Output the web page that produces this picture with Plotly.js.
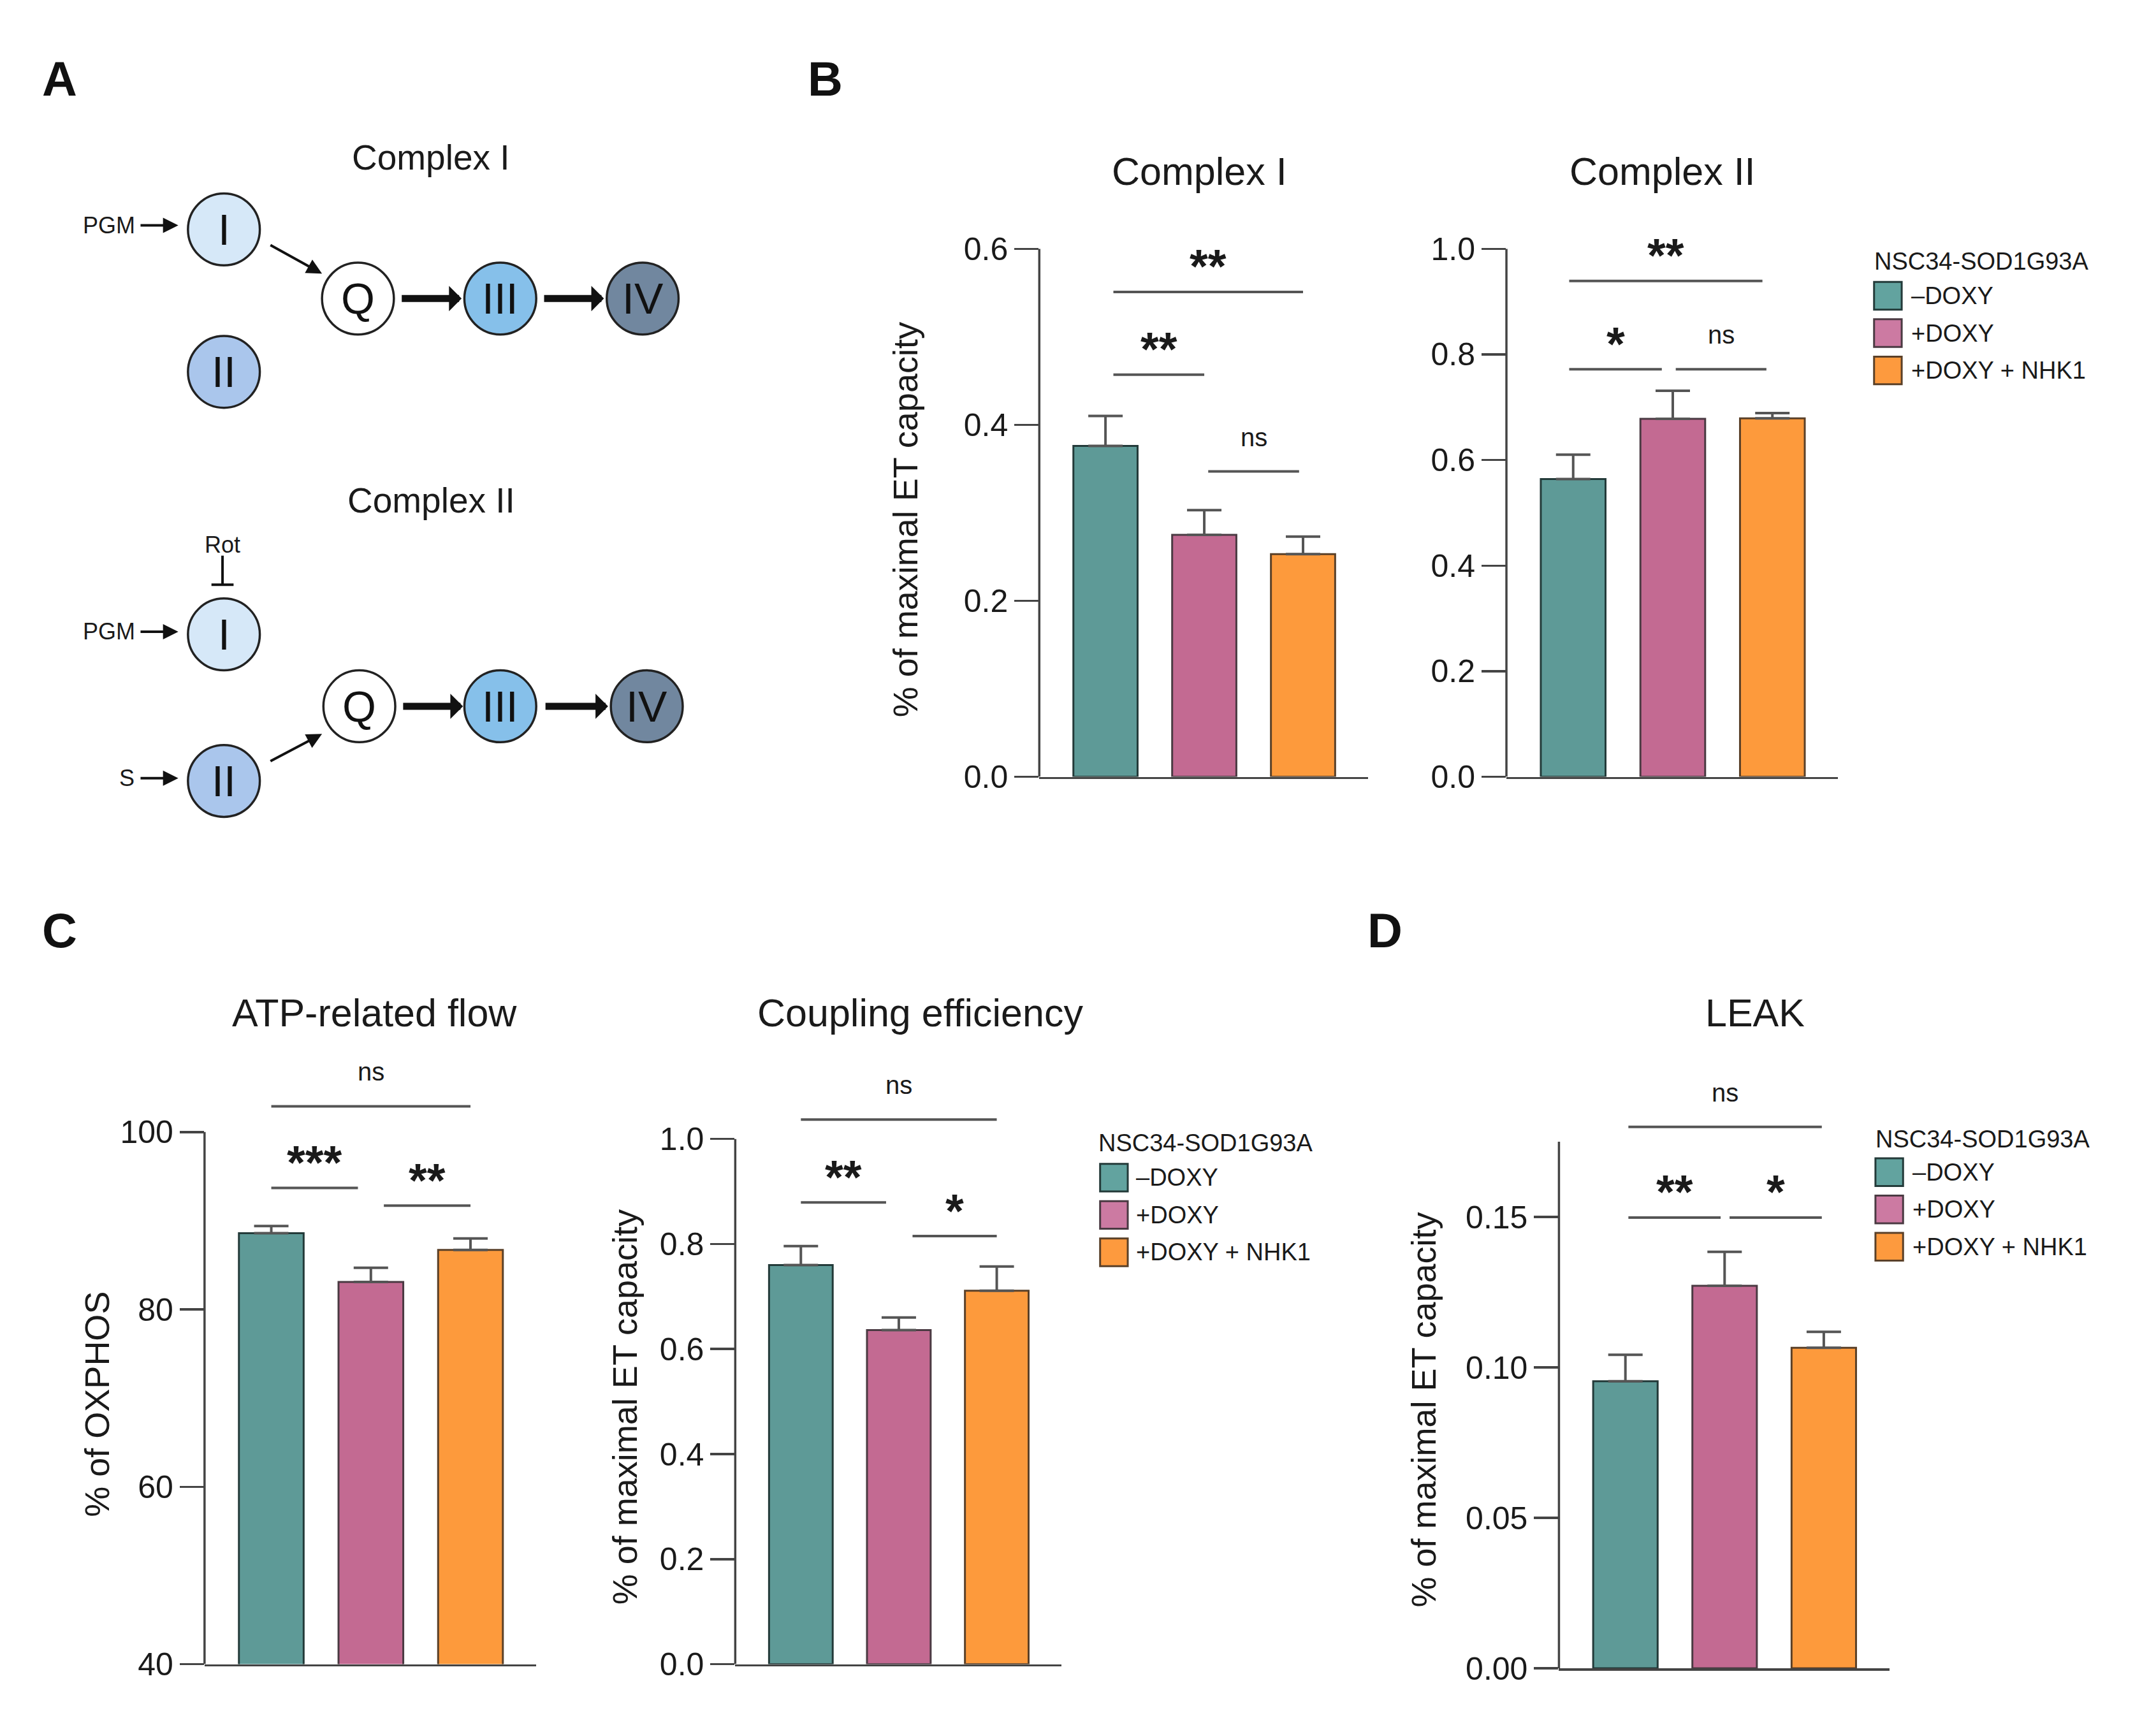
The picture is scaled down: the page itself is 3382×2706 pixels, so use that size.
<!DOCTYPE html>
<html><head><meta charset="utf-8">
<script src="https://cdn.plot.ly/plotly-3.0.1.min.js"></script>
<style>html,body{margin:0;padding:0;background:#fff}</style>
</head><body><div id="chart" style="width:3382px;height:2706px"></div>
<script>
// ---------------- data ----------------
const groups = ['–DOXY', '+DOXY', '+DOXY + NHK1'];
const legendTitle = 'NSC34-SOD1G93A';

const complexIMean = [0.376, 0.275, 0.253];
const complexISem  = [0.034, 0.028, 0.020];
const complexIIMean = [0.564, 0.678, 0.679];
const complexIISem  = [0.046, 0.053, 0.010];
const atpMean = [88.6, 83.1, 86.7];
const atpSem  = [0.8, 1.6, 1.3];
const couplingMean = [0.760, 0.636, 0.711];
const couplingSem  = [0.036, 0.024, 0.046];
const leakMean = [0.0954, 0.1271, 0.1065];
const leakSem  = [0.0088, 0.0113, 0.0053];

const complexITicks = [0, 0.2, 0.4, 0.6];
const complexIITicks = [0, 0.2, 0.4, 0.6, 0.8, 1.0];
const atpTicks = [40, 60, 80, 100];
const couplingTicks = [0, 0.2, 0.4, 0.6, 0.8, 1.0];
const leakTicks = [0, 0.05, 0.10, 0.15];

// significance brackets: [from category, to category, level, label]
const complexISig = [[0.08, 2.0, 0.551, '**'], [0.08, 1.0, 0.457, '**'], [1.04, 1.96, 0.347, 'ns']];
const complexIISig = [[-0.04, 1.9, 0.939, '**'], [-0.04, 0.89, 0.772, '*'], [1.03, 1.94, 0.772, 'ns']];
const atpSig = [[0, 2, 102.9, 'ns'], [0, 0.87, 93.7, '***'], [1.13, 2, 91.7, '**']];
const couplingSig = [[0, 2, 1.037, 'ns'], [0, 0.87, 0.879, '**'], [1.14, 2, 0.815, '*']];
const leakSig = [[0.03, 1.98, 0.1799, 'ns'], [0.03, 0.96, 0.1498, '**'], [1.05, 1.98, 0.1498, '*']];

// ---------------- styles / layout geometry ----------------
const FONT = 'Liberation Sans, Arial, Helvetica, sans-serif';
const TXT = '#1a1a1a';
const barColors = ['#5e9a97', '#c36a92', '#fd9a3c'];
const legendColors = ['#62a39f', '#cc7aa2', '#fd9a3e'];
const barLines = ['#233a39', '#4a3a42', '#5a4028'];
const AX = '#444';
const DW = 1560, DH = 1248, K = 3382 / 1560;
const px = x => x / DW;
const py = y => 1 - y / DH;

const panels = [
  {mean: complexIMean, sem: complexISem, ticks: complexITicks, fmt: '.1f', sig: complexISig,
   axisTop: 0.6, rangeTop: 0.6, x0: 752, x1: 990, yb: 562, ya: 180,
   title: 'Complex I', tx: 868, ty: 124, ytitle: '% of maximal ET capacity', ytx: 655, yty: 376},
  {mean: complexIIMean, sem: complexIISem, ticks: complexIITicks, fmt: '.1f', sig: complexIISig,
   axisTop: 1.0, rangeTop: 1.0, x0: 1090, x1: 1330, yb: 562, ya: 180,
   title: 'Complex II', tx: 1203, ty: 124, ytitle: null},
  {mean: atpMean, sem: atpSem, ticks: atpTicks, fmt: '.0f', sig: atpSig,
   axisTop: 100, rangeTop: 104, x0: 148, x1: 388, yb: 1204, ya: 819,
   title: 'ATP-related flow', tx: 271, ty: 733, ytitle: '% of OXPHOS', ytx: 70, yty: 1016},
  {mean: couplingMean, sem: couplingSem, ticks: couplingTicks, fmt: '.1f', sig: couplingSig,
   axisTop: 1.0, rangeTop: 1.06, x0: 532, x1: 768, yb: 1204, ya: 824,
   title: 'Coupling efficiency', tx: 666, ty: 733, ytitle: '% of maximal ET capacity', ytx: 452, yty: 1018},
  {mean: leakMean, sem: leakSem, ticks: leakTicks, fmt: '.2f', sig: leakSig,
   axisTop: 0.175, rangeTop: 0.185, x0: 1128, x1: 1367, yb: 1207, ya: 826,
   title: 'LEAK', tx: 1270, ty: 733, ytitle: '% of maximal ET capacity', ytx: 1030, yty: 1020}
];

const legends = [
  {tx: 1355, ty: 189, bx: 1356, cys: [214, 241, 268], textX: 1382},
  {tx: 794, ty: 827, bx: 796, cys: [852, 879, 906], textX: 821},
  {tx: 1356, ty: 824, bx: 1357, cys: [848, 875, 902], textX: 1383}
];

const traces = [];
const shapes = [];
const annotations = [];
const layout = {
  width: 3382, height: 2706,
  margin: {l: 0, r: 0, t: 0, b: 0},
  paper_bgcolor: '#ffffff', plot_bgcolor: 'rgba(0,0,0,0)',
  barmode: 'overlay', showlegend: false,
  font: {family: FONT, color: TXT},
  shapes: shapes, annotations: annotations
};

panels.forEach((p, k) => {
  const n = k === 0 ? '' : String(k + 1);
  const r0 = p.ticks[0];
  const unit = (p.yb - p.ya) / (p.axisTop - r0);
  const topDisp = p.yb - (p.rangeTop - r0) * unit;
  layout['xaxis' + n] = {
    domain: [px(p.x0), px(p.x1)], anchor: 'y' + n,
    type: 'category', categoryorder: 'array', categoryarray: groups,
    range: [-0.67, 2.66], showline: true, linecolor: AX, linewidth: 3.5,
    ticks: '', showticklabels: false, showgrid: false, zeroline: false, fixedrange: true
  };
  layout['yaxis' + n] = {
    domain: [py(p.yb), py(topDisp)], anchor: 'x' + n,
    range: [r0, p.rangeTop], tickmode: 'array', tickvals: p.ticks, tickformat: p.fmt,
    ticks: 'outside', ticklen: 38, tickwidth: 3.5, tickcolor: AX,
    showline: false, showgrid: false, zeroline: false, fixedrange: true,
    tickfont: {family: FONT, size: 50, color: TXT}
  };
  groups.forEach((g, i) => {
    traces.push({
      type: 'bar', name: g, x: [g], y: [p.mean[i]], width: 0.65,
      xaxis: 'x' + n, yaxis: 'y' + n, showlegend: false, hoverinfo: 'skip',
      marker: {color: barColors[i], line: {color: barLines[i], width: 3}},
      error_y: {type: 'data', symmetric: false, array: [p.sem[i]], arrayminus: [0],
                color: '#555', thickness: 4, width: 27}
    });
  });
  // y-axis line up to last tick
  shapes.push({type: 'line', xref: 'x' + n + ' domain', yref: 'y' + n,
    x0: 0, x1: 0, y0: r0, y1: p.axisTop, line: {color: AX, width: 3.5}});
  // significance brackets
  p.sig.forEach(s => {
    shapes.push({type: 'line', xref: 'x' + n, yref: 'y' + n, x0: s[0], x1: s[1], y0: s[2], y1: s[2],
      line: {color: '#555', width: 4}});
    const isNs = s[3] === 'ns';
    annotations.push({xref: 'x' + n, yref: 'y' + n, x: (s[0] + s[1]) / 2, y: s[2],
      text: isNs ? 'ns' : '<b>' + s[3] + '</b>', showarrow: false,
      xanchor: 'center', yanchor: 'middle', yshift: isNs ? 54 : 40,
      font: {family: FONT, size: isNs ? 40 : 74, color: TXT}});
  });
  annotations.push({xref: 'paper', yref: 'paper', x: px(p.tx), y: py(p.ty), text: p.title,
    showarrow: false, xanchor: 'center', yanchor: 'middle', font: {family: FONT, size: 61, color: TXT}});
  if (p.ytitle) {
    annotations.push({xref: 'paper', yref: 'paper', x: px(p.ytx), y: py(p.yty), text: p.ytitle,
      textangle: -90, showarrow: false, xanchor: 'center', yanchor: 'middle',
      font: {family: FONT, size: 54, color: TXT}});
  }
});

// manual legends
legends.forEach(L => {
  annotations.push({xref: 'paper', yref: 'paper', x: px(L.tx), y: py(L.ty), text: legendTitle,
    showarrow: false, xanchor: 'left', yanchor: 'middle', font: {family: FONT, size: 38, color: TXT}});
  groups.forEach((g, i) => {
    shapes.push({type: 'rect', xref: 'paper', yref: 'paper',
      x0: px(L.bx), x1: px(L.bx + 20), y0: py(L.cys[i] + 10), y1: py(L.cys[i] - 10),
      fillcolor: legendColors[i], line: {color: barLines[i], width: 3}});
    annotations.push({xref: 'paper', yref: 'paper', x: px(L.textX), y: py(L.cys[i]), text: g,
      showarrow: false, xanchor: 'left', yanchor: 'middle', font: {family: FONT, size: 38, color: TXT}});
  });
});

// panel letters
[['A', 43, 57], ['B', 597, 57], ['C', 43, 673], ['D', 1002, 673]].forEach(l => {
  annotations.push({xref: 'paper', yref: 'paper', x: px(l[1]), y: py(l[2]), text: '<b>' + l[0] + '</b>',
    showarrow: false, xanchor: 'center', yanchor: 'middle', font: {family: FONT, size: 76, color: '#111'}});
});

// ---------------- panel A: schematic ----------------
const diagramNodes = [
  ['I', 162, 166, '#d6e8f8'], ['II', 162, 269, '#aac6ec'], ['Q', 259, 216, '#ffffff'],
  ['III', 362, 216, '#86c0ea'], ['IV', 465, 216, '#71879f'],
  ['I', 162, 459, '#d6e8f8'], ['II', 162, 565, '#aac6ec'], ['Q', 260, 511, '#ffffff'],
  ['III', 362, 511, '#86c0ea'], ['IV', 468, 511, '#71879f']
];
const R = 26;
diagramNodes.forEach(nd => {
  shapes.push({type: 'circle', xref: 'paper', yref: 'paper',
    x0: px(nd[1] - R), x1: px(nd[1] + R), y0: py(nd[2] + R), y1: py(nd[2] - R),
    fillcolor: nd[3], line: {color: '#222', width: 3.5}});
  annotations.push({xref: 'paper', yref: 'paper', x: px(nd[1]), y: py(nd[2]), text: nd[0],
    showarrow: false, xanchor: 'center', yanchor: 'middle', font: {family: FONT, size: 68, color: '#111'}});
});
const diagramArrows = [
  // [tailX, tailY, headX, headY, thick]
  [101, 163, 129, 163, false], [195, 177, 233, 198, false],
  [290, 216, 334, 216, true], [393, 216, 437, 216, true],
  [101, 457, 129, 457, false], [101, 563, 129, 563, false], [195, 551, 233, 531, false],
  [291, 511, 335, 511, true], [394, 511, 440, 511, true]
];
diagramArrows.forEach(a => {
  annotations.push({xref: 'paper', yref: 'paper', x: px(a[2]), y: py(a[3]),
    ax: (a[0] - a[2]) * K, ay: (a[1] - a[3]) * K, text: '', showarrow: true,
    arrowhead: a[4] ? 1 : 2, arrowsize: a[4] ? 0.6 : 1.2, arrowwidth: a[4] ? 11 : 4,
    arrowcolor: '#111', standoff: 0, startstandoff: 0});
});
[['Complex I', 312, 114, 55], ['Complex II', 312, 362, 55], ['PGM', 79, 163, 36],
 ['PGM', 79, 457, 36], ['S', 92, 563, 36], ['Rot', 161, 394, 36]].forEach(t => {
  annotations.push({xref: 'paper', yref: 'paper', x: px(t[1]), y: py(t[2]), text: t[0],
    showarrow: false, xanchor: 'center', yanchor: 'middle', font: {family: FONT, size: t[3], color: TXT}});
});
// Rot inhibition T-bar
shapes.push({type: 'line', xref: 'paper', yref: 'paper', x0: px(161), x1: px(161), y0: py(402), y1: py(423),
  line: {color: '#111', width: 4}});
shapes.push({type: 'line', xref: 'paper', yref: 'paper', x0: px(153), x1: px(169), y0: py(423), y1: py(423),
  line: {color: '#111', width: 4}});

Plotly.newPlot('chart', traces, layout, {staticPlot: true, displayModeBar: false});
</script>
</body></html>
